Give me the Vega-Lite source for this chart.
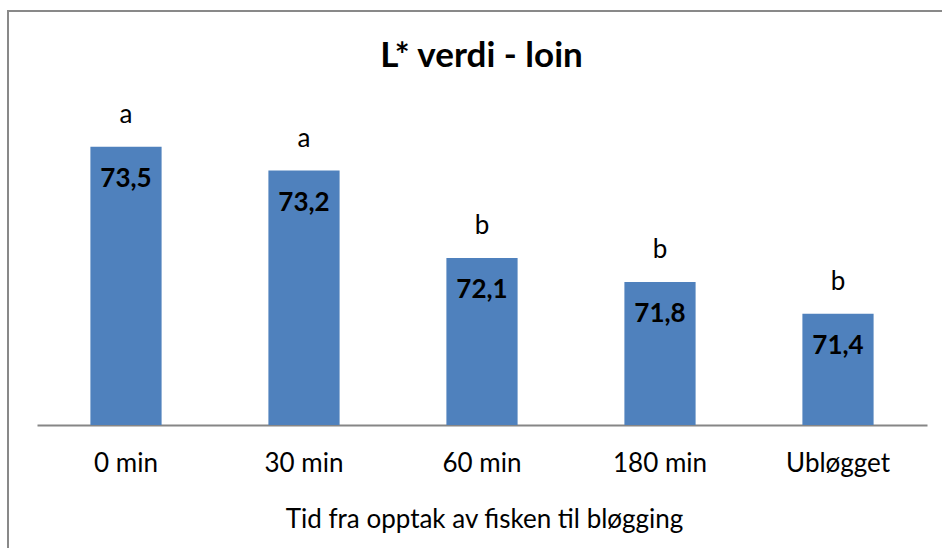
{
  "$schema": "https://vega.github.io/schema/vega-lite/v6.json",
  "width": 937,
  "height": 540,
  "autosize": {"type": "none"},
  "padding": {"left": 8, "top": 11, "right": -3, "bottom": -3},
  "background": "white",
  "config": {"view": {"stroke": "#898989", "strokeWidth": 2}, "font": "Lato"},
  "title": {
    "text": "L* verdi - loin",
    "font": "Lato",
    "fontSize": 35,
    "fontWeight": "bold",
    "color": "#000000",
    "anchor": "middle",
    "frame": "group",
    "baseline": "alphabetic",
    "offset": -55,
    "dy": 36,
    "dx": 5
  },
  "data": {
    "values": [
      {"tid": "0 min", "verdi": 73.5, "etikett": "73,5", "gruppe": "a"},
      {"tid": "30 min", "verdi": 73.2, "etikett": "73,2", "gruppe": "a"},
      {"tid": "60 min", "verdi": 72.1, "etikett": "72,1", "gruppe": "b"},
      {"tid": "180 min", "verdi": 71.8, "etikett": "71,8", "gruppe": "b"},
      {"tid": "Ubløgget", "verdi": 71.4, "etikett": "71,4", "gruppe": "b"}
    ]
  },
  "encoding": {
    "x": {
      "field": "tid",
      "type": "nominal",
      "sort": null,
      "scale": {"range": [29, 919], "paddingInner": 0.6, "paddingOuter": 0.3},
      "axis": {
        "title": "Tid fra opptak av fisken til bløgging",
        "titleFont": "Lato",
        "titleFontSize": 26,
        "titleFontWeight": "normal",
        "titleColor": "#000000",
        "titleBaseline": "alphabetic",
        "titleY": 102,
        "titleX": 476,
        "labelFont": "Lato",
        "labelFontSize": 26,
        "labelColor": "#000000",
        "labelBaseline": "alphabetic",
        "labelPadding": 46,
        "labelAngle": 0,
        "ticks": false,
        "tickSize": 0,
        "domainColor": "#868686",
        "domainWidth": 2,
        "offset": -126,
        "grid": false
      }
    },
    "y": {
      "field": "verdi",
      "type": "quantitative",
      "scale": {"domain": [70, 74], "range": [414, 96], "zero": false, "nice": false},
      "axis": null
    }
  },
  "layer": [
    {
      "mark": {"type": "bar", "color": "#4F81BD"},
      "encoding": {"y2": {"datum": 70}}
    },
    {
      "mark": {"type": "text", "font": "Lato", "fontSize": 26, "fontWeight": "bold", "color": "#000000", "baseline": "alphabetic", "dy": 40},
      "encoding": {"text": {"field": "etikett"}}
    },
    {
      "mark": {"type": "text", "font": "Lato", "fontSize": 26, "color": "#000000", "baseline": "alphabetic", "dy": -24},
      "encoding": {"text": {"field": "gruppe"}}
    }
  ]
}
